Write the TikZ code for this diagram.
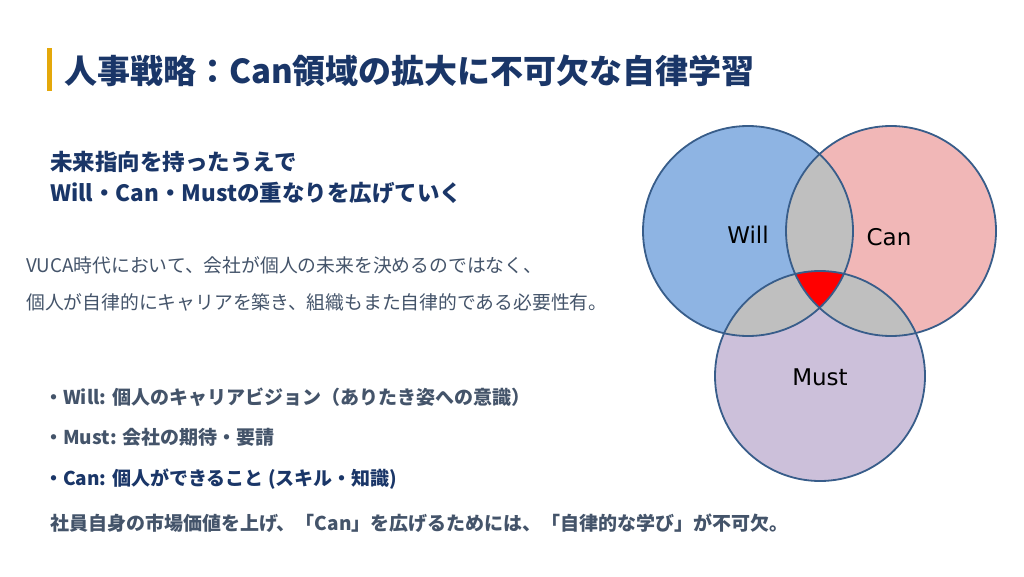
\documentclass[tikz,border=0pt]{standalone}
\usepackage{fontspec}
\setmainfont{Noto Sans CJK JP}
\newfontfamily\vennfont{DejaVu Sans}
\usepackage{xcolor}
\usetikzlibrary{positioning}

\definecolor{navy}{RGB}{26,54,104}
\definecolor{slate}{RGB}{68,84,106}
\definecolor{gold}{RGB}{228,168,10}
\definecolor{willblue}{RGB}{142,180,227}
\definecolor{canpink}{RGB}{241,183,183}
\definecolor{mustlilac}{RGB}{204,192,218}
\definecolor{overlap}{RGB}{191,191,191}
\definecolor{ringline}{RGB}{56,93,138}
\newcommand{\vennrad}{105pt}

\begin{document}
\begin{tikzpicture}[x=1pt, y=-1pt,
  ttl/.style={anchor=west, inner sep=0pt, text=navy, font=\fontsize{33}{39}\selectfont\bfseries},
  sub/.style={anchor=west, inner sep=0pt, text=navy, font=\fontsize{22.5}{27}\selectfont\bfseries},
  body/.style={anchor=west, inner sep=0pt, text=slate, font=\fontsize{18.8}{22}\selectfont},
  bul/.style={anchor=west, inner sep=0pt, text=slate, font=\fontsize{19}{23}\selectfont\bfseries},
  vlab/.style={inner sep=0pt, font=\vennfont\fontsize{23}{27}\selectfont},
  ring/.style={draw=ringline, line width=1.8pt}
]
\path[use as bounding box, fill=white] (0,0) rectangle (1024,576);

% title
\fill[gold] (47,48) rectangle (52,91);
\node[ttl] (title) at (64,71) {人事戦略：Can領域の拡大に不可欠な自律学習};

% left column
\node[sub] (sub1) at (50,162) {未来指向を持ったうえで};
\node[sub] (sub2) at (50,193) {Will・Can・Mustの重なりを広げていく};
\node[body] (vuca) at (26,265) {VUCA時代において、会社が個人の未来を決めるのではなく、};
\node[body] (auto) at (26,302) {個人が自律的にキャリアを築き、組織もまた自律的である必要性有。};
\node[bul] (bwill) at (44,397) {・Will: 個人のキャリアビジョン（ありたき姿への意識）};
\node[bul] (bmust) at (44,437) {・Must: 会社の期待・要請};
\node[bul, text=navy] (bcan) at (44,479) {・Can: 個人ができること (スキル・知識)};
\node[bul] (concl) at (50,523) {社員自身の市場価値を上げ、「Can」を広げるためには、「自律的な学び」が不可欠。};

% venn
\coordinate (will) at (748,231);
\coordinate (can) at (891,231);
\coordinate (must) at (820,376);
\fill[willblue] (will) circle[radius=\vennrad];
\fill[canpink] (can) circle[radius=\vennrad];
\fill[mustlilac] (must) circle[radius=\vennrad];
\begin{scope}
  \clip (will) circle[radius=\vennrad];
  \fill[overlap] (can) circle[radius=\vennrad];
  \fill[overlap] (must) circle[radius=\vennrad];
\end{scope}
\begin{scope}
  \clip (can) circle[radius=\vennrad];
  \fill[overlap] (must) circle[radius=\vennrad];
\end{scope}
\begin{scope}
  \clip (will) circle[radius=\vennrad];
  \clip (can) circle[radius=\vennrad];
  \fill[red] (must) circle[radius=\vennrad];
\end{scope}
\draw[ring] (will) circle[radius=\vennrad];
\draw[ring] (can) circle[radius=\vennrad];
\draw[ring] (must) circle[radius=\vennrad];
\node[vlab] (willlab) at (748,235) {Will};
\node[vlab] (canlab) at (889,237) {Can};
\node[vlab] (mustlab) at (820,377) {Must};
\end{tikzpicture}
\end{document}
